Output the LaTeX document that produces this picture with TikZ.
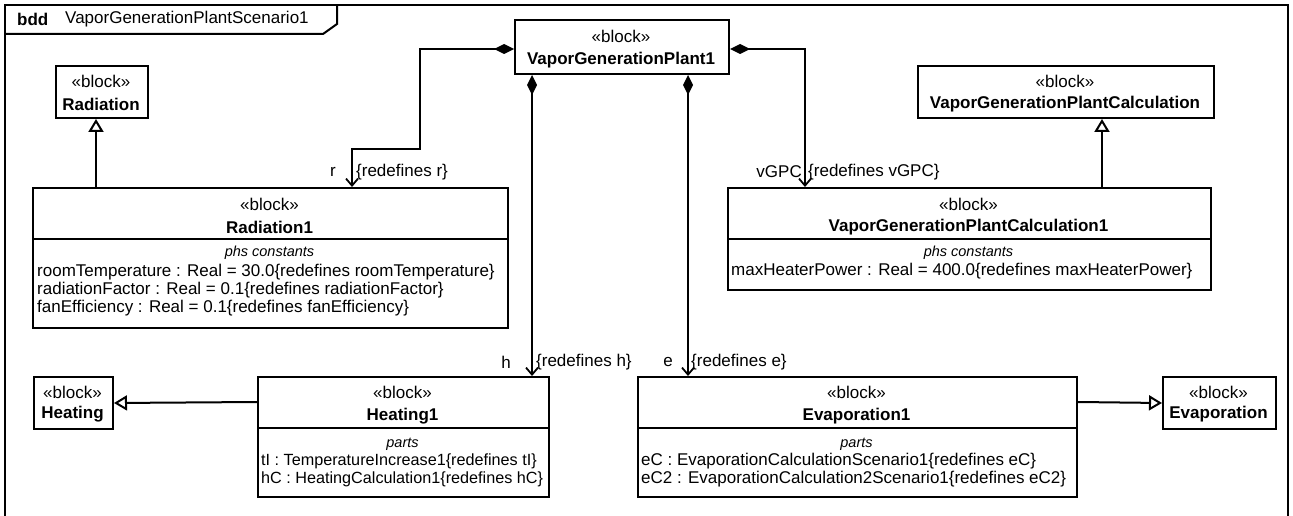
\documentclass[tikz,border=0pt]{standalone}
\usepackage{fontspec}
\setmainfont{Liberation Sans}
\usetikzlibrary{arrows.meta,calc}

\tikzset{
  blk/.style={draw, line width=2pt, anchor=north west, inner sep=0pt},
  txt/.style={inner sep=0pt, font=\fontsize{17}{19}\selectfont},
  nm/.style={inner sep=0pt, font=\fontsize{17}{19}\selectfont\bfseries},
  kw/.style={inner sep=0pt, font=\fontsize{14.5}{16}\selectfont\itshape},
  row/.style={inner sep=0pt, anchor=west, font=\fontsize{17}{19}\selectfont},
  comp/.style={line width=2pt, {Diamond[length=20pt,width=10pt]}-{Straight Barb[length=7pt,width=12pt,line width=1.8pt]}},
  gen/.style={line width=2pt, -{Triangle[open,length=13pt,width=15pt,fill=white,line width=2pt]}},
}

\begin{document}
\begin{tikzpicture}[x=1pt,y=-1pt]
  \useasboundingbox (0,0) rectangle (1293,516);
  % frame
  \draw[line width=2pt] (5,516) -- (5,5) -- (1288,5) -- (1288,516);
  \draw[line width=2pt] (5,34) -- (323,34) -- (337,24) -- (337,5);
  \node[nm, anchor=west] (kind) at (17,19) {bdd};
  \node[txt, anchor=west] (title) at (65,19) {VaporGenerationPlantScenario1};

  % blocks
  \node[blk, minimum width=214pt, minimum height=54pt] (vgp) at (514,19) {};
  \node[blk, minimum width=92pt, minimum height=52pt] (rad) at (55,65) {};
  \node[blk, minimum width=296pt, minimum height=52pt] (vgpcal) at (917,65) {};
  \node[blk, minimum width=475pt, minimum height=140pt] (rad1) at (32,187) {};
  \node[blk, minimum width=483pt, minimum height=102pt] (vgpc1) at (727,187) {};
  \node[blk, minimum width=79pt, minimum height=52pt] (heat) at (33,376) {};
  \node[blk, minimum width=291pt, minimum height=120pt] (heat1) at (257,376) {};
  \node[blk, minimum width=439pt, minimum height=120pt] (evap1) at (637,376) {};
  \node[blk, minimum width=113pt, minimum height=52pt] (evap) at (1162,376) {};

  % compartments
  \draw[line width=2pt] (rad1.west |- 0,239) -- (rad1.east |- 0,239);
  \draw[line width=2pt] (vgpc1.west |- 0,239) -- (vgpc1.east |- 0,239);
  \draw[line width=2pt] (heat1.west |- 0,428) -- (heat1.east |- 0,428);
  \draw[line width=2pt] (evap1.west |- 0,428) -- (evap1.east |- 0,428);

  % texts
  \node[txt] at (621,36) {«block»};
  \node[nm] at (621,60) {VaporGenerationPlant1};
  \node[txt] at (101,81) {«block»};
  \node[nm] at (101,104) {Radiation};
  \node[txt] at (1065,81) {«block»};
  \node[nm] at (1065,104) {VaporGenerationPlantCalculation};
  \node[txt] at (269.5,204) {«block»};
  \node[nm] at (269.5,227) {Radiation1};
  \node[kw] at (269.5,253) {phs constants};
  \node[row] at (37,272) {roomTemperature : Real = 30.0\{redefines roomTemperature\}};
  \node[row] at (37,290) {radiationFactor : Real = 0.1\{redefines radiationFactor\}};
  \node[row] at (37,308) {fanEfficiency : Real = 0.1\{redefines fanEfficiency\}};
  \node[txt] at (968.5,204) {«block»};
  \node[nm] at (968.5,227) {VaporGenerationPlantCalculation1};
  \node[kw] at (968.5,253) {phs constants};
  \node[row] at (731,271) {maxHeaterPower : Real = 400.0\{redefines maxHeaterPower\}};
  \node[txt] at (72.5,392) {«block»};
  \node[nm] at (72.5,414) {Heating};
  \node[txt] at (402.5,392) {«block»};
  \node[nm] at (402.5,416) {Heating1};
  \node[kw] at (402.5,444) {parts};
  \node[row, font=\fontsize{16.2}{19}\selectfont] at (261,461) {tI : TemperatureIncrease1\{redefines tI\}};
  \node[row, font=\fontsize{16.2}{19}\selectfont] at (261,479) {hC : HeatingCalculation1\{redefines hC\}};
  \node[txt] at (856.5,392) {«block»};
  \node[nm] at (856.5,416) {Evaporation1};
  \node[kw] at (856.5,444) {parts};
  \node[row] at (641,461) {eC : EvaporationCalculationScenario1\{redefines eC\}};
  \node[row] at (641,479) {eC2 : EvaporationCalculation2Scenario1\{redefines eC2\}};
  \node[txt] at (1218.5,392) {«block»};
  \node[nm] at (1218.5,414) {Evaporation};

  % composition
  \draw[comp] ($(vgp.north west)+(0,30)$) -| (420,149) -| ($(rad1.north west)+(320,0)$);
  \draw[comp] ($(vgp.north east)+(0,30)$) -| ($(vgpc1.north west)+(78,0)$);
  \draw[comp] ($(vgp.south west)+(18,0)$) -- ($(heat1.north west)+(275,0)$);
  \draw[comp] ($(vgp.south west)+(174,0)$) -- ($(evap1.north west)+(51,0)$);
  \node[txt, anchor=east] (rl) at (336,172) {r};
  \node[txt, anchor=west] (rr) at (356,172) {\{redefines r\}};
  \node[txt, anchor=east] (vl) at (802,172) {vGPC};
  \node[txt, anchor=west] (vr) at (808,172) {\{redefines vGPC\}};
  \node[txt] (hl) at (506,362) {h};
  \node[txt, anchor=west] (hr) at (536,362) {\{redefines h\}};
  \node[txt] (el) at (668,362) {e};
  \node[txt, anchor=west] (er) at (691,362) {\{redefines e\}};

  % generalization
  \draw[gen] ($(rad1.north west)+(64,0)$) -- ($(rad.south west)+(41,0)$);
  \draw[gen] ($(vgpc1.north west)+(375,0)$) -- ($(vgpcal.south west)+(185,0)$);
  \draw[gen] ($(heat1.north west)+(0,26)$) -- (heat.east);
  \draw[gen] ($(evap1.north east)+(0,26)$) -- (evap.west);
\end{tikzpicture}
\end{document}
